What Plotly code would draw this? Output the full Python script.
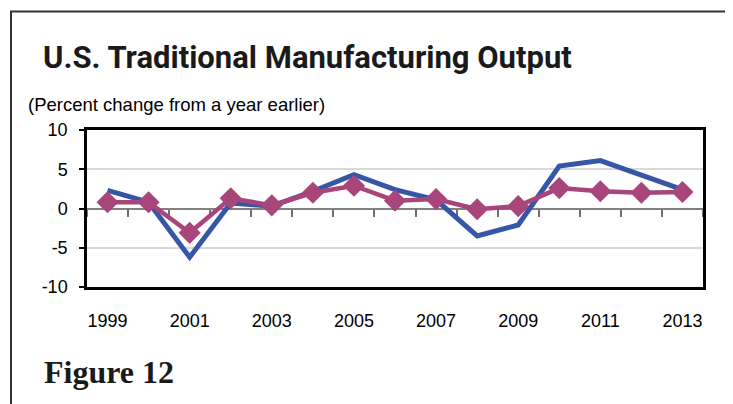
import plotly.graph_objects as go

# ---- data ----
years = list(range(1999, 2014))
traditional = [2.3, 0.8, -6.2, 0.7, 0.3, 2.2, 4.3, 2.4, 1.1, -3.5, -2.1, 5.4, 6.1, 4.3, 2.4]
comparison = [0.8, 0.8, -3.1, 1.3, 0.4, 2.0, 2.9, 1.0, 1.2, -0.1, 0.3, 2.6, 2.2, 2.0, 2.1]
label_years = [1999, 2001, 2003, 2005, 2007, 2009, 2011, 2013]
y_ticks = [-10, -5, 0, 5, 10]
y_labels = ["-10", "-5", "0", "5", "10"]
boundaries = [y - 0.5 for y in years] + [years[-1] + 0.5]

BLUE = "#3656a8"
MAGENTA = "#a8457a"

OFF = 8  # page body margin
W, H = 733 - OFF, 404 - OFF
L, R, T, B = 87 - OFF, 30, 130 - OFF, 117
pw, ph = W - L - R, H - T - B

def px(x):
    return (x - OFF - L) / pw

def py(y):
    return (H - B - (y - OFF)) / ph

fig = go.Figure()
fig.add_trace(go.Scatter(x=years, y=[None] * len(years), xaxis="x", yaxis="y",
                         showlegend=False, hoverinfo="skip"))
fig.add_trace(go.Scatter(x=years, y=traditional, xaxis="x2", yaxis="y", mode="lines",
                         name="Traditional manufacturing",
                         line=dict(color=BLUE, width=5)))
fig.add_trace(go.Scatter(x=years, y=comparison, xaxis="x2", yaxis="y", mode="lines+markers",
                         name="Comparison",
                         line=dict(color=MAGENTA, width=4.5),
                         marker=dict(symbol="diamond", size=17, color=MAGENTA)))

xr = [years[0] - 0.5, years[-1] + 0.5]
fig.update_layout(
    width=W, height=H,
    margin=dict(l=L, r=R, t=T, b=B),
    paper_bgcolor="white", plot_bgcolor="white",
    showlegend=False,
    font=dict(family="Liberation Sans, Arial, sans-serif", color="black"),
    xaxis=dict(range=xr, tickvals=label_years, ticktext=[str(v) for v in label_years],
               ticks="", showgrid=False, zeroline=False,
               showline=True, mirror=True, linecolor="black", linewidth=2.5,
               tickfont=dict(size=18), ticklabelstandoff=16),
    xaxis2=dict(range=xr, overlaying="x", anchor="free", position=0.5, side="bottom",
                tickvals=boundaries, ticks="outside", ticklen=7, tickwidth=1.5,
                tickcolor="#707070", showticklabels=False, showgrid=False,
                zeroline=False, showline=False, layer="below traces"),
    yaxis=dict(range=[-10, 10], tickvals=y_ticks, ticktext=y_labels, ticks="outside", ticklen=5,
               tickwidth=1.5, tickcolor="black", showgrid=True, gridcolor="#d9d9d9",
               gridwidth=1.5, zeroline=True, zerolinecolor="#808080", zerolinewidth=2,
               showline=True, mirror=True, linecolor="black", linewidth=2.5,
               tickfont=dict(size=18), ticklabelstandoff=8),
)

# outer frame
fig.add_shape(type="rect", xref="paper", yref="paper",
              x0=px(11), x1=px(728), y0=py(430), y1=py(11.5),
              line=dict(color="#333333", width=2), layer="below")

fig.add_annotation(text="<b>U.S. Traditional Manufacturing Output</b>", xref="paper", yref="paper",
                   x=px(41), y=py(57), xanchor="left", yanchor="middle", showarrow=False,
                   font=dict(family="Roboto, Liberation Sans, Arial", size=31, color="#1a1a1a"))
fig.add_annotation(text="(Percent change from a year earlier)", xref="paper", yref="paper",
                   x=px(26), y=py(104), xanchor="left", yanchor="middle", showarrow=False,
                   font=dict(size=18.5, color="black"))
fig.add_annotation(text="<b>Figure 12</b>", xref="paper", yref="paper",
                   x=px(42), y=py(372), xanchor="left", yanchor="middle", showarrow=False,
                   font=dict(family="Liberation Serif, DejaVu Serif, serif", size=32, color="#1a1a1a"))

fig.write_html("out.html")
